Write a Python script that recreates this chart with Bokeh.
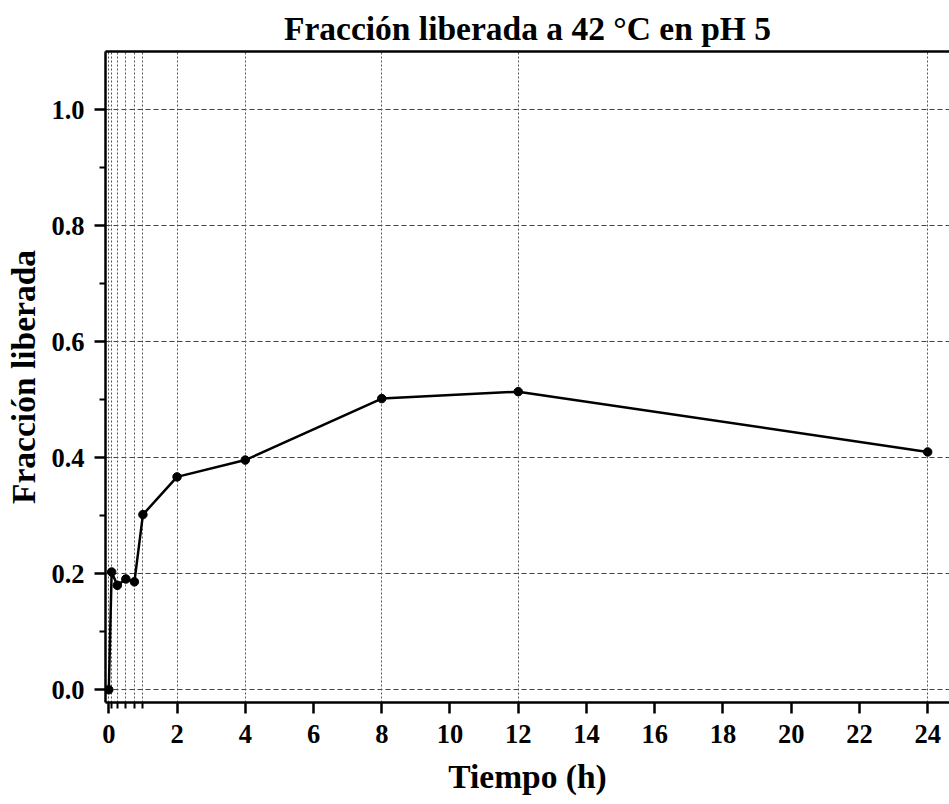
from bokeh.plotting import figure
from bokeh.models import FixedTicker, LinearAxis, Range1d, NumeralTickFormatter, Grid, Title
from bokeh.embed import file_html
from bokeh.resources import INLINE

# Data
time_h = [0, 0.083, 0.25, 0.5, 0.75, 1, 2, 4, 8, 12, 24]
fraction = [0.0, 0.203, 0.180, 0.191, 0.186, 0.302, 0.367, 0.396, 0.502, 0.514, 0.410]
x_major = [0, 2, 4, 6, 8, 10, 12, 14, 16, 18, 20, 22, 24]
x_minor = [0.083, 0.25, 0.5, 0.75, 1.0]
y_major = [0.0, 0.2, 0.4, 0.6, 0.8, 1.0]
y_minor = [0.1, 0.3, 0.5, 0.7, 0.9]

FONT = "Liberation Serif"

p = figure(width=949, height=804, output_backend="svg", toolbar_location=None,
           x_range=Range1d(-0.097, 24.64), y_range=Range1d(-0.022, 1.1005),
           min_border_left=105, min_border_right=0, min_border_top=51, min_border_bottom=102,
           x_axis_type=None, y_axis_type=None)
p.outline_line_color = None
p.background_fill_color = "white"
p.border_fill_color = "white"

p.title.text = "Fracción liberada a 42 °C en pH 5"
p.title.align = "center"
p.title.text_font = FONT
p.title.text_font_size = "33.5px"
p.title.text_font_style = "bold"
p.title.text_color = "black"

# Axes
xaxis = LinearAxis(ticker=FixedTicker(ticks=x_major, minor_ticks=x_minor))
yaxis = LinearAxis(ticker=FixedTicker(ticks=y_major, minor_ticks=y_minor),
                   formatter=NumeralTickFormatter(format="0.0"))
topaxis = LinearAxis(ticker=FixedTicker(ticks=[]), major_label_text_font_size="0px")
for ax in (xaxis, yaxis):
    ax.axis_line_width = 2.5
    ax.axis_line_color = "black"
    ax.major_tick_line_width = 2.5
    ax.minor_tick_line_width = 2
    ax.major_tick_line_color = "black"
    ax.minor_tick_line_color = "black"
    ax.major_tick_out = 11
    ax.major_tick_in = 0
    ax.minor_tick_out = 6
    ax.minor_tick_in = 0
    ax.major_label_text_font = FONT
    ax.major_label_text_font_style = "bold"
    ax.major_label_text_font_size = "26.5px"
    ax.major_label_text_color = "black"
    ax.axis_label_text_font = FONT
    ax.axis_label_text_font_style = "bold"
    ax.axis_label_text_font_size = "33.5px"
    ax.axis_label_text_color = "black"
yaxis.axis_label = "Fracción liberada"
xaxis.major_label_standoff = 11
yaxis.major_label_standoff = 10
yaxis.axis_label_standoff = 6
topaxis.axis_line_width = 2.5
topaxis.axis_line_color = "black"
topaxis.major_tick_line_color = None
topaxis.minor_tick_line_color = None
p.add_layout(xaxis, "below")
p.add_layout(yaxis, "left")
p.add_layout(topaxis, "above")

# x-axis title as a below-panel title
xtitle = Title(text="Tiempo (h)", align="center", standoff=20, vertical_align="bottom",
               text_font=FONT, text_font_style="bold", text_font_size="33.5px",
               text_color="black")
p.add_layout(xtitle, "below")

# Grids
hgrid = Grid(dimension=1, ticker=FixedTicker(ticks=y_major), grid_line_color="#444444",
             grid_line_width=1, grid_line_dash="5 3")
vgrid = Grid(dimension=0, ticker=FixedTicker(ticks=time_h), grid_line_color="#555555",
             grid_line_width=1, grid_line_dash="2 2")
p.add_layout(hgrid)
p.add_layout(vgrid)

p.line(time_h, fraction, line_color="black", line_width=2.5)
p.scatter(time_h, fraction, size=8.5, fill_color="black", line_color="black")

open("out.html", "w").write(file_html(p, INLINE))
